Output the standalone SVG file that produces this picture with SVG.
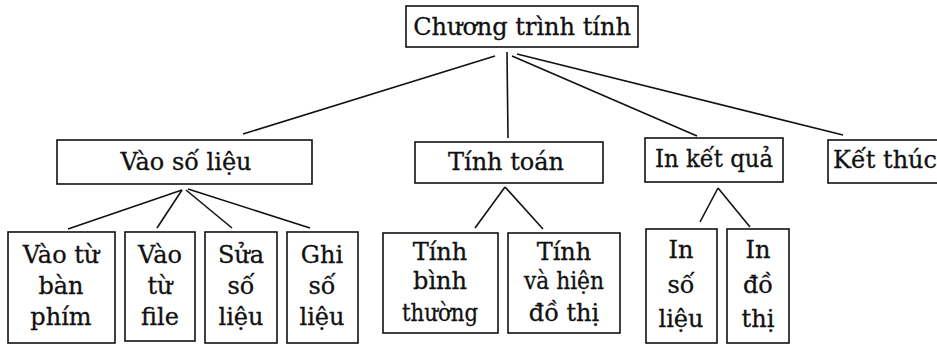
<svg xmlns="http://www.w3.org/2000/svg" width="937" height="345" viewBox="0 0 937 345">
  <style>
    .box { fill: #ffffff; stroke: #111111; stroke-width: 1.6; }
    .edge { stroke: #111111; stroke-width: 1.6; fill: none; }
    .lbl { font-family: "DejaVu Serif", "Liberation Serif", serif; font-size: 24px; fill: #111111; stroke: #111111; stroke-width: 0.3; text-anchor: middle; }
  </style>
  <rect width="937" height="345" fill="#ffffff"/>

  <!-- connectors -->
  <g id="connectors">
    <line class="edge" x1="495" y1="56" x2="243" y2="134"/>
    <line class="edge" x1="507" y1="52" x2="508" y2="138"/>
    <line class="edge" x1="512" y1="56" x2="697" y2="136"/>
    <line class="edge" x1="517" y1="54" x2="843" y2="135"/>

    <line class="edge" x1="182" y1="190" x2="68" y2="229"/>
    <line class="edge" x1="182" y1="190" x2="157" y2="228"/>
    <line class="edge" x1="186" y1="190" x2="232" y2="228"/>
    <line class="edge" x1="188" y1="189" x2="310" y2="228"/>

    <line class="edge" x1="505" y1="187" x2="475" y2="228"/>
    <line class="edge" x1="505" y1="187" x2="543" y2="229"/>

    <line class="edge" x1="718" y1="188" x2="700" y2="222"/>
    <line class="edge" x1="718" y1="188" x2="750" y2="227"/>
  </g>

  <!-- root -->
  <g id="root">
    <rect class="box" x="406" y="6" width="232" height="41"/>
    <text class="lbl" x="522" y="35">Chương trình tính</text>
  </g>

  <!-- second level -->
  <g id="vao-so-lieu">
    <rect class="box" x="57" y="140" width="255" height="44"/>
    <text class="lbl" x="186" y="170">Vào số liệu</text>
  </g>
  <g id="tinh-toan">
    <rect class="box" x="415" y="142" width="188" height="41"/>
    <text class="lbl" x="506" y="170">Tính toán</text>
  </g>
  <g id="in-ket-qua">
    <rect class="box" x="645" y="138" width="138" height="44"/>
    <text class="lbl" x="714" y="167" textLength="118" lengthAdjust="spacingAndGlyphs">In kết quả</text>
  </g>
  <g id="ket-thuc">
    <rect class="box" x="828" y="140" width="130" height="43"/>
    <text class="lbl" x="885" y="168">Kết thúc</text>
  </g>

  <!-- leaves under "Vào số liệu" -->
  <g id="vao-tu-ban-phim">
    <rect class="box" x="8" y="232" width="107" height="111"/>
    <text class="lbl" x="61" y="263">Vào từ</text>
    <text class="lbl" x="61" y="294">bàn</text>
    <text class="lbl" x="61" y="325">phím</text>
  </g>
  <g id="vao-tu-file">
    <rect class="box" x="125" y="232" width="70" height="109"/>
    <text class="lbl" x="160" y="263">Vào</text>
    <text class="lbl" x="160" y="294">từ</text>
    <text class="lbl" x="160" y="325">file</text>
  </g>
  <g id="sua-so-lieu">
    <rect class="box" x="205" y="232" width="72" height="111"/>
    <text class="lbl" x="241" y="263">Sửa</text>
    <text class="lbl" x="241" y="294">số</text>
    <text class="lbl" x="241" y="325">liệu</text>
  </g>
  <g id="ghi-so-lieu">
    <rect class="box" x="287" y="232" width="71" height="111"/>
    <text class="lbl" x="322" y="263">Ghi</text>
    <text class="lbl" x="322" y="294">số</text>
    <text class="lbl" x="322" y="325">liệu</text>
  </g>

  <!-- leaves under "Tính toán" -->
  <g id="tinh-binh-thuong">
    <rect class="box" x="383" y="233" width="115" height="100"/>
    <text class="lbl" x="440" y="260">Tính</text>
    <text class="lbl" x="440" y="289">bình</text>
    <text class="lbl" x="440" y="321" textLength="76" lengthAdjust="spacingAndGlyphs">thường</text>
  </g>
  <g id="tinh-va-hien-do-thi">
    <rect class="box" x="508" y="233" width="112" height="100"/>
    <text class="lbl" x="564" y="260">Tính</text>
    <text class="lbl" x="564" y="289" textLength="80" lengthAdjust="spacingAndGlyphs">và hiện</text>
    <text class="lbl" x="564" y="321">đồ thị</text>
  </g>

  <!-- leaves under "In kết quả" -->
  <g id="in-so-lieu">
    <rect class="box" x="646" y="229" width="71" height="114"/>
    <text class="lbl" x="681" y="258">In</text>
    <text class="lbl" x="681" y="293">số</text>
    <text class="lbl" x="681" y="327">liệu</text>
  </g>
  <g id="in-do-thi">
    <rect class="box" x="727" y="229" width="62" height="114"/>
    <text class="lbl" x="758" y="258">In</text>
    <text class="lbl" x="758" y="293">đồ</text>
    <text class="lbl" x="758" y="327">thị</text>
  </g>
</svg>
